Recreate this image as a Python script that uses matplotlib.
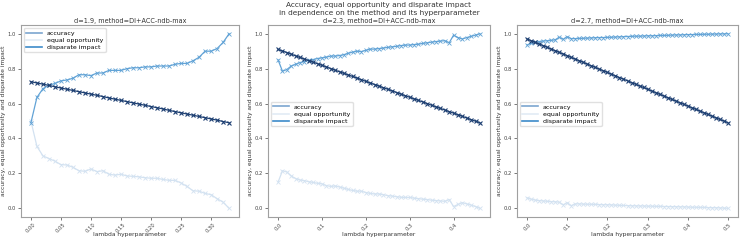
import matplotlib
matplotlib.use("Agg")
import matplotlib.pyplot as plt
from matplotlib.lines import Line2D

# ---------------- data ----------------
titles = ["d=1.9, method=DI+ACC-ndb-max",
          "d=2.3, method=DI+ACC-ndb-max",
          "d=2.7, method=DI+ACC-ndb-max"]

lam_1 = [0.00, 0.01, 0.02, 0.03, 0.04, 0.05, 0.06, 0.07, 0.08, 0.09, 0.10, 0.11,
         0.12, 0.13, 0.14, 0.15, 0.16, 0.17, 0.18, 0.19, 0.20, 0.21, 0.22, 0.23,
         0.24, 0.25, 0.26, 0.27, 0.28, 0.29, 0.30, 0.31, 0.32, 0.33]
acc_1 = [0.725, 0.718, 0.711, 0.704, 0.696, 0.689, 0.682, 0.675, 0.668, 0.661,
         0.654, 0.647, 0.640, 0.632, 0.625, 0.618, 0.611, 0.604, 0.597, 0.590,
         0.583, 0.576, 0.569, 0.561, 0.554, 0.547, 0.540, 0.533, 0.526, 0.519,
         0.512, 0.505, 0.497, 0.490]
eo_1 = [0.50, 0.355, 0.30, 0.285, 0.27, 0.25, 0.248, 0.235, 0.215, 0.212, 0.225,
        0.21, 0.215, 0.195, 0.19, 0.195, 0.185, 0.183, 0.18, 0.175, 0.172, 0.172,
        0.165, 0.16, 0.16, 0.145, 0.125, 0.10, 0.098, 0.085, 0.078, 0.055, 0.035,
        0.00]
di_1 = [0.49, 0.635, 0.685, 0.705, 0.715, 0.73, 0.735, 0.745, 0.765, 0.765, 0.76,
        0.775, 0.775, 0.79, 0.79, 0.79, 0.80, 0.805, 0.805, 0.81, 0.81, 0.815,
        0.815, 0.815, 0.825, 0.83, 0.83, 0.845, 0.865, 0.90, 0.90, 0.915, 0.95,
        1.00]

lam_2 = [0.00, 0.01, 0.02, 0.03, 0.04, 0.05, 0.06, 0.07, 0.08, 0.09, 0.10, 0.11,
         0.12, 0.13, 0.14, 0.15, 0.16, 0.17, 0.18, 0.19, 0.20, 0.21, 0.22, 0.23,
         0.24, 0.25, 0.26, 0.27, 0.28, 0.29, 0.30, 0.31, 0.32, 0.33, 0.34, 0.35,
         0.36, 0.37, 0.38, 0.39, 0.40, 0.41, 0.42, 0.43, 0.44, 0.45, 0.46]
acc_2 = [0.910, 0.901, 0.892, 0.883, 0.873, 0.864, 0.855, 0.846, 0.837, 0.828,
         0.819, 0.810, 0.800, 0.791, 0.782, 0.773, 0.764, 0.755, 0.746, 0.737,
         0.727, 0.718, 0.709, 0.700, 0.691, 0.682, 0.673, 0.663, 0.654, 0.645,
         0.636, 0.627, 0.618, 0.609, 0.600, 0.590, 0.581, 0.572, 0.563, 0.554,
         0.545, 0.536, 0.527, 0.517, 0.508, 0.499, 0.490]
eo_2 = [0.150, 0.215, 0.208, 0.185, 0.170, 0.162, 0.158, 0.152, 0.148, 0.143,
        0.140, 0.130, 0.125, 0.128, 0.122, 0.115, 0.108, 0.102, 0.098, 0.098,
        0.090, 0.085, 0.082, 0.082, 0.078, 0.072, 0.070, 0.066, 0.063, 0.062,
        0.062, 0.058, 0.055, 0.052, 0.050, 0.046, 0.044, 0.042, 0.040, 0.050,
        0.010, 0.022, 0.032, 0.025, 0.018, 0.010, 0.000]
di_2 = [0.850, 0.785, 0.795, 0.815, 0.825, 0.835, 0.840, 0.848, 0.852, 0.858,
        0.862, 0.866, 0.872, 0.872, 0.875, 0.880, 0.888, 0.895, 0.900, 0.898,
        0.905, 0.912, 0.912, 0.915, 0.918, 0.922, 0.925, 0.928, 0.932, 0.935,
        0.935, 0.938, 0.940, 0.945, 0.948, 0.952, 0.955, 0.958, 0.960, 0.948,
        0.992, 0.978, 0.970, 0.978, 0.985, 0.992, 1.000]

lam_3 = [0.00, 0.01, 0.02, 0.03, 0.04, 0.05, 0.06, 0.07, 0.08, 0.09, 0.10, 0.11,
         0.12, 0.13, 0.14, 0.15, 0.16, 0.17, 0.18, 0.19, 0.20, 0.21, 0.22, 0.23,
         0.24, 0.25, 0.26, 0.27, 0.28, 0.29, 0.30, 0.31, 0.32, 0.33, 0.34, 0.35,
         0.36, 0.37, 0.38, 0.39, 0.40, 0.41, 0.42, 0.43, 0.44, 0.45, 0.46, 0.47,
         0.48, 0.49, 0.50]
acc_3 = [0.970, 0.960, 0.951, 0.941, 0.932, 0.922, 0.912, 0.903, 0.893, 0.884,
         0.874, 0.864, 0.855, 0.845, 0.836, 0.826, 0.816, 0.807, 0.797, 0.788,
         0.778, 0.768, 0.759, 0.749, 0.740, 0.730, 0.720, 0.711, 0.701, 0.692,
         0.682, 0.672, 0.663, 0.653, 0.644, 0.634, 0.624, 0.615, 0.605, 0.596,
         0.586, 0.576, 0.567, 0.557, 0.548, 0.538, 0.528, 0.519, 0.509, 0.500,
         0.490]
eo_3 = [0.060, 0.052, 0.047, 0.044, 0.042, 0.040, 0.038, 0.037, 0.035, 0.020,
        0.032, 0.015, 0.025, 0.025, 0.024, 0.023, 0.023, 0.022, 0.021, 0.020,
        0.020, 0.019, 0.018, 0.017, 0.016, 0.015, 0.014, 0.014, 0.013, 0.013,
        0.012, 0.012, 0.011, 0.011, 0.010, 0.010, 0.009, 0.009, 0.008, 0.008,
        0.007, 0.006, 0.006, 0.005, 0.005, 0.004, 0.003, 0.003, 0.002, 0.001,
        0.000]
di_3 = [0.935, 0.945, 0.950, 0.955, 0.958, 0.960, 0.962, 0.965, 0.980, 0.968,
        0.983, 0.972, 0.972, 0.973, 0.974, 0.975, 0.976, 0.977, 0.978, 0.978,
        0.979, 0.980, 0.981, 0.982, 0.983, 0.984, 0.985, 0.986, 0.986, 0.987,
        0.988, 0.988, 0.989, 0.990, 0.990, 0.991, 0.992, 0.993, 0.993, 0.994,
        0.995, 0.995, 0.996, 0.996, 0.997, 0.997, 0.998, 0.998, 0.999, 0.999,
        1.000]

xticks_1 = [0.00, 0.05, 0.10, 0.15, 0.20, 0.25, 0.30]
xticks_2 = [0.0, 0.1, 0.2, 0.3, 0.4]
xticks_3 = [0.0, 0.1, 0.2, 0.3, 0.4, 0.5]
xticklabels_1 = ["0.00", "0.05", "0.10", "0.15", "0.20", "0.25", "0.30"]
xticklabels_2 = ["0.0", "0.1", "0.2", "0.3", "0.4"]
xticklabels_3 = ["0.0", "0.1", "0.2", "0.3", "0.4", "0.5"]
yticks = [0.0, 0.2, 0.4, 0.6, 0.8, 1.0]
series_names = ["accuracy", "equal opportunity", "disparate impact"]

# ---------------- style ----------------
c_acc = "#1d3f72"
c_eo = "#d3e2f1"
c_di = "#62a3d6"
leg_colors = ["#7ba5d0", "#e2ebf5", "#3d8bca"]
spine_c = "#a0a0a0"
txt_c = "#333333"

fig = plt.figure(figsize=(7.4, 2.4), dpi=100)
positions = [
    [21 / 740, 23 / 240, 218 / 740, 192 / 240],
    [268 / 740, 23 / 240, 222 / 740, 192 / 240],
    [517 / 740, 23 / 240, 221 / 740, 192 / 240],
]
panels = [
    (lam_1, acc_1, eo_1, di_1, xticks_1, xticklabels_1),
    (lam_2, acc_2, eo_2, di_2, xticks_2, xticklabels_2),
    (lam_3, acc_3, eo_3, di_3, xticks_3, xticklabels_3),
]
legend_locs = [
    dict(loc="upper left", bbox_to_anchor=(0.0, 1.0)),
    dict(loc="upper left", bbox_to_anchor=(0.0, 0.615)),
    dict(loc="upper left", bbox_to_anchor=(0.0, 0.615)),
]

for k, (pos, (lam, acc, eo, di, xt, xtl)) in enumerate(zip(positions, panels)):
    ax = fig.add_axes(pos)
    ax.plot(lam, eo, color=c_eo, lw=0.9, marker="x", ms=2.5, mew=0.6)
    ax.plot(lam, di, color=c_di, lw=0.9, marker="x", ms=2.5, mew=0.6)
    ax.plot(lam, acc, color=c_acc, lw=0.9, marker="x", ms=2.8, mew=0.8)
    ax.set_ylim(-0.05, 1.05)
    ax.set_yticks(yticks)
    ax.set_yticklabels([f"{v:.1f}" for v in yticks])
    ax.set_xticks(xt)
    ax.set_xticklabels(xtl, rotation=45)
    ax.tick_params(labelsize=3.8, length=2, width=0.5, colors="#444444", pad=1.5)
    for s in ax.spines.values():
        s.set_color(spine_c)
        s.set_linewidth(0.8)
    ax.set_xlabel("lambda hyperparameter", fontsize=4.3, color=txt_c)
    ax.xaxis.set_label_coords(0.5, -0.078)
    ax.xaxis.label.set_va("top")
    ax.set_ylabel("accuracy, equal opportunity and disparate impact",
                  fontsize=4.3, color=txt_c)
    ax.yaxis.set_label_coords(-0.067, 0.5)
    ax.set_title(titles[k], fontsize=4.7, color=txt_c, pad=1.5)
    handles = [Line2D([0], [0], color=c, lw=1.2) for c in leg_colors]
    ax.legend(handles, series_names, fontsize=4.5, frameon=True,
              edgecolor="#dddddd", handlelength=2.5, borderpad=0.35,
              labelspacing=0.3, framealpha=0.9, **legend_locs[k])

fig.text(0.512, 1 - 4.5 / 240, "Accuracy, equal opportunity and disparate impact",
         ha="center", va="center", fontsize=5.3, color=txt_c)
fig.text(0.512, 1 - 12.5 / 240, "in dependence on the method and its hyperparameter",
         ha="center", va="center", fontsize=5.3, color=txt_c)

fig.savefig("out.png", dpi=100)
